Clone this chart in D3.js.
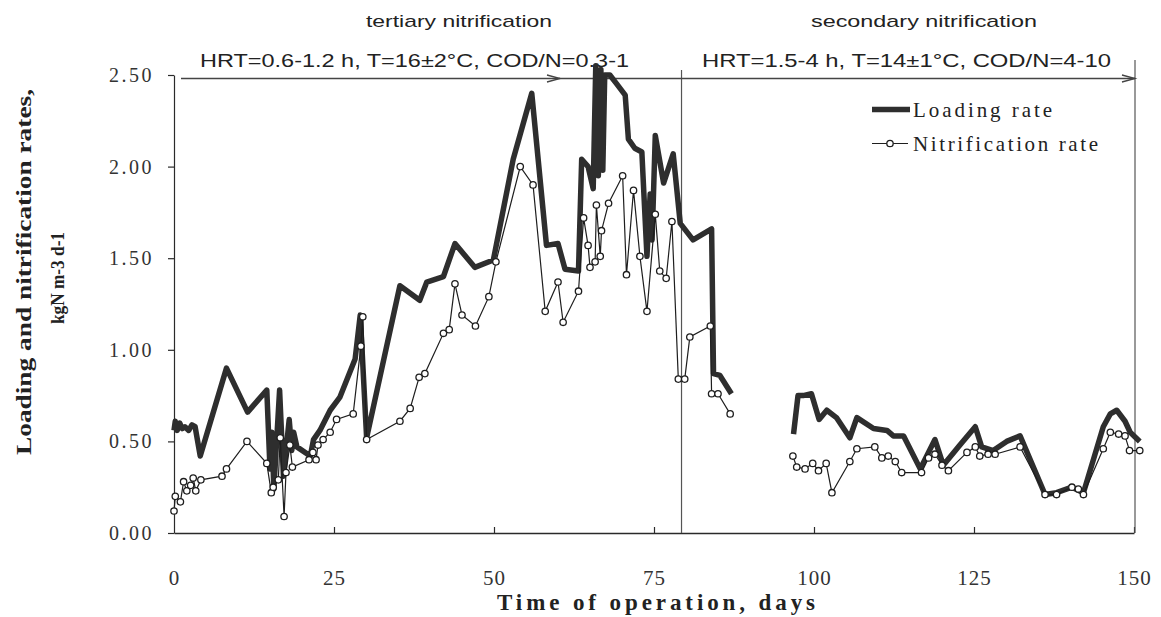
<!DOCTYPE html>
<html>
<head>
<meta charset="utf-8">
<script src="https://cdn.jsdelivr.net/npm/d3@7/dist/d3.min.js"></script>
<style>
  html, body { margin: 0; padding: 0; background: #ffffff; }
  svg { display: block; }
</style>
</head>
<body>
<svg id="chart" width="1161" height="617"></svg>
<script>
// ---------------- DATA ----------------
const xTicks = [0, 25, 50, 75, 100, 125, 150];
const yTicks = [0, 0.5, 1.0, 1.5, 2.0, 2.5];

// Loading rate (null = gap in record)
const loadDays = [0, 0.2, 0.5, 0.9, 1.3, 1.7, 2.3, 2.8, 3.3, 4.1, 8.2, 11.5, 14.5, 15.0, 15.3, 15.6, 16.5, 17.1, 18.0, 18.4, 18.7, 19.2, 21.3, 21.8, 22.8, 24.4, 25.9, 28.3, 29.1, 30.1, 35.3, 38.4, 39.5, 42.1, 43.9, 47.0, 49.9, 53.0, 55.9, 58.2, 60.0, 61.1, 63.2, 63.7, 64.7, 65.5, 65.9, 66.3, 66.7, 67.0, 67.3, 68.1, 69.2, 70.5, 71.0, 72.0, 73.1, 73.9, 74.4, 74.7, 75.2, 76.5, 78.0, 79.1, 81.1, 84.0, 84.3, 85.3, 87.1, 92, 96.8, 97.5, 98.3, 99.6, 100.8, 102.0, 103.5, 105.6, 106.7, 109.3, 111.4, 112.4, 114.0, 116.6, 118.9, 120.2, 122.8, 125.2, 126.2, 128.0, 130.1, 132.2, 136.1, 137.9, 140.3, 142.1, 145.2, 146.3, 147.3, 148.6, 149.4, 150.9];
const loadRate = [0.56, 0.61, 0.56, 0.60, 0.57, 0.58, 0.56, 0.59, 0.58, 0.42, 0.90, 0.66, 0.78, 0.35, 0.55, 0.24, 0.78, 0.31, 0.62, 0.45, 0.55, 0.47, 0.42, 0.51, 0.56, 0.67, 0.74, 0.95, 1.19, 0.52, 1.35, 1.27, 1.37, 1.40, 1.58, 1.45, 1.49, 2.04, 2.40, 1.57, 1.58, 1.44, 1.43, 2.04, 2.00, 1.88, 2.55, 1.95, 2.53, 1.98, 2.50, 2.50, 2.45, 2.39, 2.15, 2.10, 2.08, 1.51, 1.85, 1.60, 2.17, 1.91, 2.07, 1.69, 1.60, 1.66, 0.87, 0.86, 0.76, null, 0.54, 0.75, 0.75, 0.76, 0.62, 0.67, 0.63, 0.52, 0.63, 0.57, 0.56, 0.53, 0.53, 0.35, 0.51, 0.37, 0.48, 0.58, 0.47, 0.45, 0.50, 0.53, 0.21, 0.22, 0.25, 0.22, 0.58, 0.65, 0.67, 0.61, 0.55, 0.50];

// Nitrification rate (null = gap in record)
const nitDays = [0, 0.2, 1.0, 1.5, 2.0, 2.6, 3.0, 3.4, 4.2, 7.5, 8.2, 11.4, 14.5, 15.2, 15.5, 16.3, 16.6, 17.2, 17.5, 18.1, 18.5, 21.1, 21.7, 22.2, 22.5, 23.3, 24.4, 25.4, 28.0, 29.2, 29.5, 30.1, 35.3, 36.9, 38.3, 39.2, 42.1, 43.0, 43.9, 45.0, 47.1, 49.2, 50.3, 54.1, 56.1, 58.0, 60.0, 60.8, 63.2, 64.0, 64.7, 65.0, 65.8, 66.0, 66.6, 66.8, 67.9, 70.1, 70.7, 71.8, 72.8, 73.9, 75.2, 75.9, 76.9, 77.8, 78.8, 79.8, 80.6, 83.8, 84.0, 85.0, 86.9, 92, 96.7, 97.3, 98.6, 99.8, 100.7, 101.9, 102.8, 105.6, 106.7, 109.5, 110.6, 111.6, 112.7, 113.7, 116.8, 117.9, 118.9, 120.0, 121.0, 123.9, 125.2, 125.9, 127.2, 128.3, 132.2, 136.1, 137.9, 140.3, 141.3, 142.1, 145.2, 146.3, 147.6, 148.6, 149.3, 150.9];
const nitRate = [0.12, 0.20, 0.17, 0.28, 0.23, 0.26, 0.30, 0.23, 0.29, 0.31, 0.35, 0.50, 0.38, 0.22, 0.25, 0.29, 0.52, 0.09, 0.33, 0.48, 0.36, 0.40, 0.44, 0.40, 0.48, 0.51, 0.55, 0.62, 0.65, 1.02, 1.18, 0.51, 0.61, 0.68, 0.85, 0.87, 1.09, 1.11, 1.36, 1.19, 1.13, 1.29, 1.48, 2.00, 1.90, 1.21, 1.37, 1.15, 1.32, 1.72, 1.57, 1.45, 1.48, 1.79, 1.51, 1.65, 1.80, 1.95, 1.41, 1.87, 1.51, 1.21, 1.74, 1.43, 1.39, 1.70, 0.84, 0.84, 1.07, 1.13, 0.76, 0.76, 0.65, null, 0.42, 0.36, 0.35, 0.38, 0.34, 0.38, 0.22, 0.39, 0.46, 0.47, 0.41, 0.42, 0.39, 0.33, 0.33, 0.41, 0.43, 0.37, 0.34, 0.44, 0.47, 0.42, 0.43, 0.43, 0.47, 0.21, 0.21, 0.25, 0.24, 0.21, 0.46, 0.55, 0.54, 0.53, 0.45, 0.45];

const phaseDivider = 79.3;       // day where operation changed
const phaseNames = ["tertiary nitrification", "secondary nitrification"];
const phaseConditions = ["HRT=0.6-1.2 h, T=16±2°C, COD/N=0.3-1", "HRT=1.5-4 h, T=14±1°C, COD/N=4-10"];
const legendLabels = ["Loading rate", "Nitrification rate"];
const xTitle = "Time of operation, days";
const yTitle = ["Loading and nitrification rates,", "kgN m-3 d-1"];

// ---------------- CHART ----------------
const svg = d3.select("#chart");
const ink = "#2a2a2a";
const serif = "'Liberation Serif', 'Times New Roman', serif";
const sans = "'Liberation Sans', Arial, sans-serif";

const x = d3.scaleLinear().domain([0, 150]).range([174, 1134]);
const y = d3.scaleLinear().domain([0, 2.5]).range([533, 75]);

// Y axis
const yAxis = svg.append("g").attr("transform", `translate(${x(0)},0)`)
  .call(d3.axisLeft(y).tickValues(yTicks).tickFormat(d3.format(".2f"))
        .tickSize(6).tickSizeOuter(0).tickPadding(14));
yAxis.select(".domain").attr("stroke", ink).attr("stroke-width", 1.2);
yAxis.selectAll(".tick line").attr("stroke", ink).attr("stroke-width", 1.2);
yAxis.selectAll(".tick text").attr("font-family", serif).attr("font-size", 20)
  .attr("letter-spacing", "2.5px").attr("fill", "#333");

// X axis (ticks pointing inward)
const xAxis = svg.append("g").attr("transform", `translate(0,${y(0)})`)
  .call(d3.axisBottom(x).tickValues(xTicks).tickFormat(d3.format("d"))
        .tickSizeInner(-6).tickSizeOuter(0).tickPadding(37));
xAxis.select(".domain").attr("stroke", ink).attr("stroke-width", 1.4);
xAxis.selectAll(".tick line").attr("stroke", ink).attr("stroke-width", 1.2);
xAxis.selectAll(".tick text").attr("font-family", serif).attr("font-size", 21)
  .attr("letter-spacing", "1px").attr("fill", "#333");
xAxis.selectAll(".tick").filter(d => d === 0).select("line").remove();

// Right frame and phase divider
svg.append("line").attr("x1", 1135).attr("x2", 1135).attr("y1", 60).attr("y2", y(0))
  .attr("stroke", "#555").attr("stroke-width", 1.2);
svg.append("line").attr("x1", x(phaseDivider)).attr("x2", x(phaseDivider)).attr("y1", 70).attr("y2", y(0))
  .attr("stroke", "#555").attr("stroke-width", 1.2);

// Phase arrows
const arrowY = 78.5;
function arrow(x1, x2, headX) {
  svg.append("line").attr("x1", x1).attr("x2", x2).attr("y1", arrowY).attr("y2", arrowY)
    .attr("stroke", "#444").attr("stroke-width", 1.3);
  svg.append("path")
    .attr("d", `M${headX - 13},${arrowY - 3.5} L${headX},${arrowY} L${headX - 13},${arrowY + 3.5}`)
    .attr("fill", "none").attr("stroke", "#444").attr("stroke-width", 1.3);
}
arrow(181, x(phaseDivider), 560);
arrow(x(phaseDivider), 1135, 1135);

// Phase text
const phaseCenters = [459, 924];
const phaseNameLen = [186, 226];
const condCenters = [414.5, 906.5];
const condLen = [429, 409];
phaseNames.forEach((t, i) => {
  svg.append("text").attr("x", phaseCenters[i] - phaseNameLen[i] / 2).attr("y", 27)
    .attr("font-family", sans).attr("font-size", 17).attr("fill", "#222")
    .attr("textLength", phaseNameLen[i]).attr("lengthAdjust", "spacingAndGlyphs").text(t);
});
phaseConditions.forEach((t, i) => {
  svg.append("text").attr("x", condCenters[i] - condLen[i] / 2).attr("y", 67)
    .attr("font-family", sans).attr("font-size", 18).attr("fill", "#222")
    .attr("textLength", condLen[i]).attr("lengthAdjust", "spacingAndGlyphs").text(t);
});

// Lines
const loadData = loadDays.map((d, i) => ({ d, v: loadRate[i] }));
const nitData = nitDays.map((d, i) => ({ d, v: nitRate[i] }));
const line = d3.line().defined(p => p.v !== null).x(p => x(p.d)).y(p => y(p.v));

svg.append("path").datum(loadData).attr("d", line)
  .attr("fill", "none").attr("stroke", "#2e2e2e").attr("stroke-width", 5.5)
  .attr("stroke-linejoin", "round");

svg.append("path").datum(nitData).attr("d", line)
  .attr("fill", "none").attr("stroke", "#1e1e1e").attr("stroke-width", 1.2);

svg.append("g").selectAll("circle").data(nitData.filter(p => p.v !== null)).join("circle")
  .attr("cx", p => x(p.d)).attr("cy", p => y(p.v)).attr("r", 3.2)
  .attr("fill", "#fff").attr("stroke", "#1e1e1e").attr("stroke-width", 1.3);

// Legend
svg.append("line").attr("x1", 872).attr("x2", 910).attr("y1", 109.5).attr("y2", 109.5)
  .attr("stroke", "#2e2e2e").attr("stroke-width", 5.5);
svg.append("line").attr("x1", 872).attr("x2", 908).attr("y1", 143.5).attr("y2", 143.5)
  .attr("stroke", "#1e1e1e").attr("stroke-width", 1.2);
svg.append("circle").attr("cx", 890).attr("cy", 143.5).attr("r", 3.2)
  .attr("fill", "#fff").attr("stroke", "#1e1e1e").attr("stroke-width", 1.3);
const legLen = [139, 185];
const legY = [117, 151];
legendLabels.forEach((t, i) => {
  svg.append("text").attr("x", 913).attr("y", legY[i])
    .attr("font-family", serif).attr("font-size", 21).attr("fill", "#222")
    .attr("textLength", legLen[i]).attr("lengthAdjust", "spacing").text(t);
});

// Axis titles
svg.append("text").attr("x", 497).attr("y", 610)
  .attr("font-family", serif).attr("font-size", 23).attr("font-weight", "bold").attr("fill", "#222")
  .attr("textLength", 318).attr("lengthAdjust", "spacing").text(xTitle);

const yt = [
  { t: yTitle[0], cx: 31, cy: 272, len: 366, size: 22, weight: "bold" },
  { t: yTitle[1], cx: 64, cy: 278, len: 92, size: 19, weight: "bold" }
];
yt.forEach(o => {
  svg.append("text")
    .attr("transform", `translate(${o.cx},${o.cy + o.len / 2}) rotate(-90)`)
    .attr("x", 0).attr("y", 0)
    .attr("font-family", serif).attr("font-size", o.size).attr("font-weight", o.weight).attr("fill", "#222")
    .attr("textLength", o.len).attr("lengthAdjust", "spacingAndGlyphs").text(o.t);
});
</script>
</body>
</html>
